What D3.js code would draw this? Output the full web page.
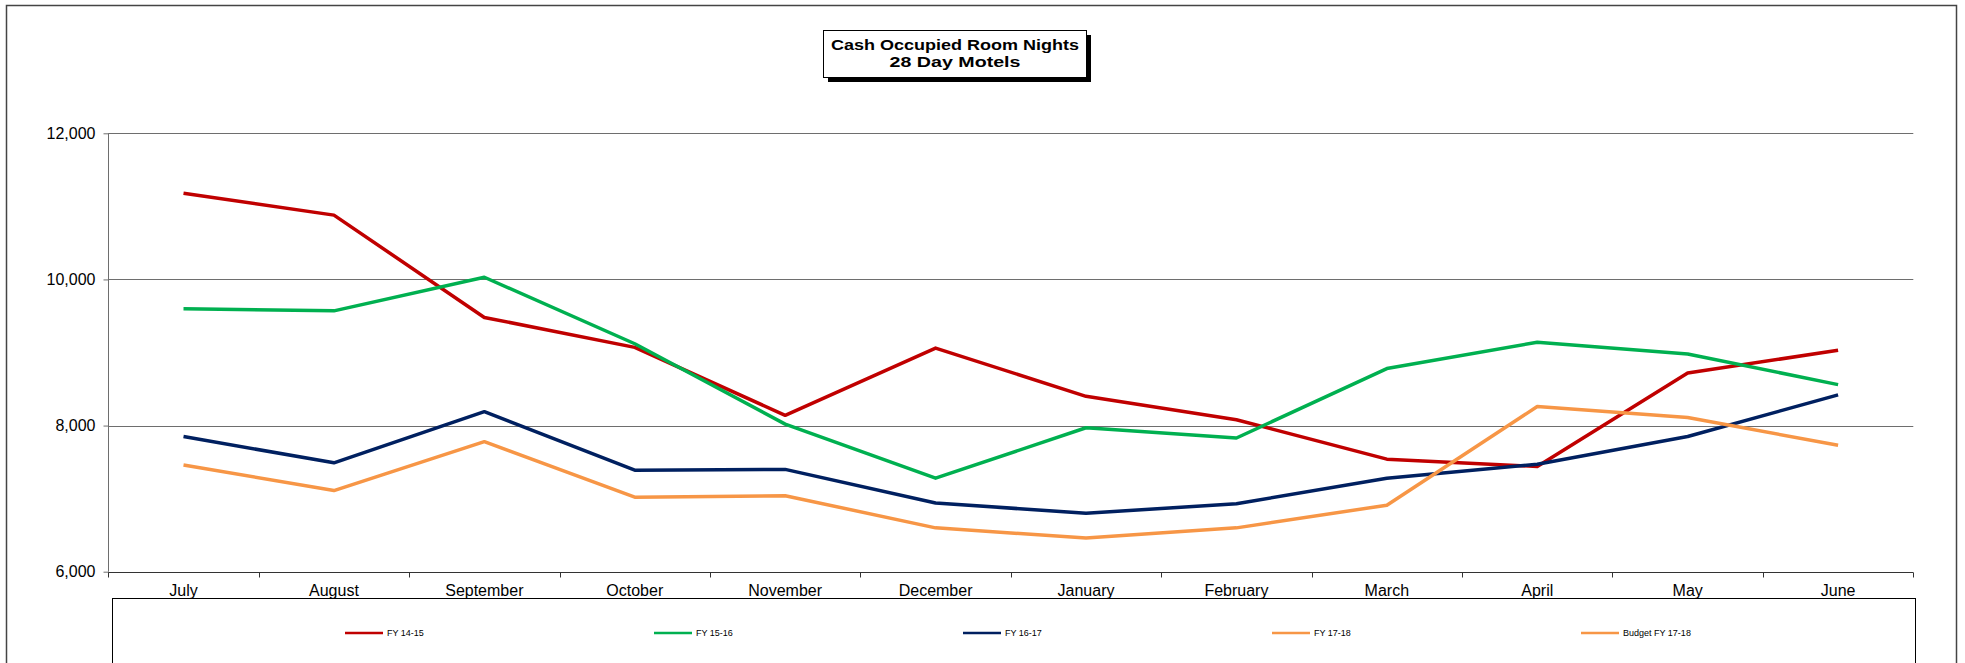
<!DOCTYPE html>
<html>
<head>
<meta charset="utf-8">
<script src="https://cdn.jsdelivr.net/npm/d3@7"></script>
<style>
  body { margin: 0; background: #fff; }
  svg { display: block; }
</style>
</head>
<body>
<div id="chart"></div>
<script>
//months of the financial year
const months = ["July", "August", "September", "October", "November", "December",
  "January", "February", "March", "April", "May", "June"];

//series values
const fy1415 = [11180, 10880, 9480, 9070, 8140, 9060, 8400, 8080, 7540, 7440, 8720, 9030];
const fy1516 = [9600, 9570, 10030, 9120, 8020, 7280, 7970, 7830, 8780, 9140, 8980, 8560];
const fy1617 = [7850, 7490, 8190, 7390, 7400, 6940, 6800, 6930, 7280, 7470, 7850, 8420];
const fy1718 = [null, null, null, null, null, null, null, null, null, null, null, null];
const budget1718 = [7460, 7110, 7780, 7020, 7040, 6600, 6460, 6600, 6910, 8260, 8110, 7730];

const seriesNames = ["FY 14-15", "FY 15-16", "FY 16-17", "FY 17-18", "Budget FY 17-18"];
const seriesColors = ["#C00000", "#00B050", "#002060", "#F79646", "#F79646"];
const yTicks = [6000, 8000, 10000, 12000];

const series = [fy1415, fy1516, fy1617, fy1718, budget1718].map((v, i) => ({
  name: seriesNames[i],
  colour: seriesColors[i],
  values: v
}));

const width = 1965;
const height = 663;
const marginLeft = 108.3;
const marginRight = 1913.3;
const plotTop = 133.3;
const plotBottom = 571.7;

const svg = d3.select("#chart").append("svg")
  .attr("width", width)
  .attr("height", height)
  .attr("font-family", "Arial, 'Liberation Sans', sans-serif");

//outer chart frame
svg.append("rect")
  .attr("x", 6.5).attr("y", 5.5)
  .attr("width", 1950).attr("height", 680)
  .attr("fill", "#fff")
  .attr("stroke", "#444")
  .attr("stroke-width", 1.5);

//scales
const x = d3.scaleBand().domain(months).range([marginLeft, marginRight]).padding(0);
const cx = m => x(m) + x.bandwidth() / 2;
const y = d3.scaleLinear().domain([6000, 12000]).range([plotBottom, plotTop]);

//gridlines
svg.append("g")
  .selectAll("line")
  .data(yTicks.filter(d => d > 6000))
  .join("line")
  .attr("x1", marginLeft).attr("x2", marginRight)
  .attr("y1", d => Math.round(y(d)) + 0.5).attr("y2", d => Math.round(y(d)) + 0.5)
  .attr("stroke", "#6e6e6e")
  .attr("stroke-width", 1);

//y axis
const yAxis = svg.append("g")
  .attr("transform", `translate(${Math.round(marginLeft) + 0.5},0)`)
  .call(d3.axisLeft(y).tickValues(yTicks).tickFormat(d3.format(",")).tickSize(5).tickPadding(8));
yAxis.select(".domain").attr("stroke", "#6e6e6e").attr("d", `M0,${plotTop}V${plotBottom}`);
yAxis.selectAll(".tick line").attr("stroke", "#6e6e6e");
yAxis.selectAll("text").attr("font-size", 16).attr("fill", "#000")
  .attr("font-family", "Arial, 'Liberation Sans', sans-serif");

//x axis: ticks at band edges, labels at band centers
const xAxis = svg.append("g")
  .attr("transform", `translate(0,${Math.round(plotBottom) + 0.5})`);
xAxis.append("line")
  .attr("x1", marginLeft).attr("x2", marginRight)
  .attr("stroke", "#333");
xAxis.selectAll("line.tick")
  .data(months.map(m => x(m)).concat([marginRight]))
  .join("line")
  .attr("class", "tick")
  .attr("x1", d => Math.round(d) + 0.5).attr("x2", d => Math.round(d) + 0.5)
  .attr("y1", 0).attr("y2", 5)
  .attr("stroke", "#333");
xAxis.selectAll("text")
  .data(months)
  .join("text")
  .attr("x", cx)
  .attr("y", 23)
  .attr("text-anchor", "middle")
  .attr("font-size", 16)
  .text(d => d);

//lines
const line = d3.line()
  .defined(d => d.v != null)
  .x(d => cx(d.m))
  .y(d => y(d.v));

svg.append("g")
  .selectAll("path")
  .data(series)
  .join("path")
  .attr("fill", "none")
  .attr("stroke", d => d.colour)
  .attr("stroke-width", 3.5)
  .attr("stroke-linejoin", "round")
  .attr("d", d => line(d.values.map((v, i) => ({ m: months[i], v }))));

//legend box
svg.append("rect")
  .attr("x", 112.5).attr("y", 598.5)
  .attr("width", 1803).attr("height", 100)
  .attr("fill", "#fff")
  .attr("stroke", "#000")
  .attr("stroke-width", 1);

const legendStep = 309;
const legendStart = 345;
const legend = svg.append("g")
  .selectAll("g")
  .data(series)
  .join("g")
  .attr("transform", (d, i) => `translate(${legendStart + i * legendStep},633)`);
legend.append("line")
  .attr("x1", 0).attr("x2", 38)
  .attr("stroke", d => d.colour)
  .attr("stroke-width", 2.5);
legend.append("text")
  .attr("x", 42)
  .attr("dy", "0.35em")
  .attr("font-size", 9)
  .text(d => d.name);

//title box with drop shadow
const title = svg.append("g");
title.append("rect")
  .attr("x", 828).attr("y", 35)
  .attr("width", 263).attr("height", 47)
  .attr("fill", "#000");
title.append("rect")
  .attr("x", 823.5).attr("y", 30.5)
  .attr("width", 263).attr("height", 47)
  .attr("fill", "#fff")
  .attr("stroke", "#000");
title.append("text")
  .attr("x", 955).attr("y", 50)
  .attr("text-anchor", "middle")
  .attr("font-size", 15.5)
  .attr("font-weight", "bold")
  .attr("textLength", 248)
  .attr("lengthAdjust", "spacingAndGlyphs")
  .text("Cash Occupied Room Nights");
title.append("text")
  .attr("x", 955).attr("y", 67)
  .attr("text-anchor", "middle")
  .attr("font-size", 15.5)
  .attr("font-weight", "bold")
  .attr("textLength", 131)
  .attr("lengthAdjust", "spacingAndGlyphs")
  .text("28 Day Motels");
</script>
</body>
</html>
